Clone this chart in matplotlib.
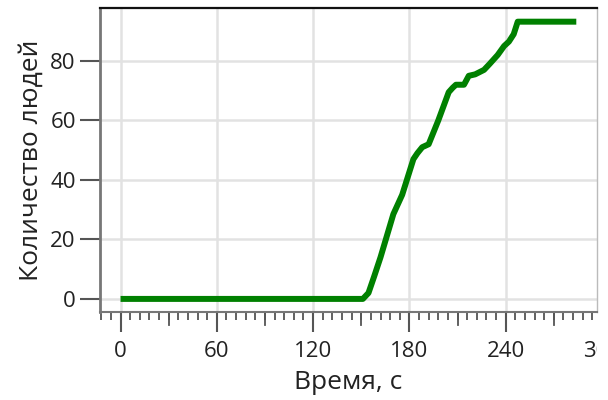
import matplotlib
matplotlib.use("Agg")
import matplotlib.pyplot as plt
from matplotlib.ticker import MultipleLocator
from matplotlib.patches import Rectangle

plt.rcParams['font.family'] = ['Open Sans', 'DejaVu Sans']

time_s = [0, 151, 154.5, 158, 162, 170, 175.5, 182.5, 185, 188, 192, 198, 204.5, 207,
          209, 214, 217, 221, 226.5, 230, 235, 239, 242, 245, 247.5, 284]
people = [0, 0, 2, 7.5, 14, 28.5, 35, 47, 49, 51, 52, 60, 69.5, 71,
          72, 72, 75, 75.5, 77, 79, 82, 85, 86.5, 89, 93.2, 93.2]

x_major = [0, 60, 120, 180, 240]
y_major = [0, 20, 40, 60, 80]

fig = plt.figure(figsize=(6.08, 4.0), dpi=100)
ax = fig.add_axes([100/608, 1-312/400, 497/608, 304/400])

ax.plot(time_s, people, color='#008000', lw=4.3, solid_capstyle='butt',
        solid_joinstyle='round', zorder=3)

ax.set_xlim(-12.8, 296.9)
ax.set_ylim(-4.4, 97.8)
ax.set_xticks(x_major)
ax.set_yticks(y_major)
ax.xaxis.set_minor_locator(MultipleLocator(6))

ax.grid(True, which='major', color='#e2e2e2', lw=1.8, zorder=0)

ax.tick_params(axis='x', which='major', length=14.4, width=1.5,
               color='#555555', labelsize=16, labelcolor='#222222', pad=6.5)
ax.tick_params(axis='y', which='major', length=14.4, width=1.5,
               color='#555555', labelsize=16, labelcolor='#222222', pad=3)
ax.tick_params(axis='x', which='minor', length=5.5, width=1.3, color='#555555')
ax.tick_params(axis='y', which='minor', length=0)

# medium ticks at 30-s midpoints
for xm in [30, 90, 150, 210, 270]:
    ax.plot([xm, xm], [0, -0.043], transform=ax.get_xaxis_transform(),
            color='#555555', lw=1.3, clip_on=False)

# partially visible last tick label (clipped at the chart's right edge)
t300 = ax.annotate('300', xy=(300, 0), xycoords=('data', 'axes fraction'),
                   xytext=(0, -20.9), textcoords='offset points', ha='center',
                   va='top', fontsize=16, color='#222222', annotation_clip=False)
clip_rect = Rectangle((0, 0), 597/608, 1, transform=fig.transFigure,
                      facecolor='none', edgecolor='none')
t300.set_clip_on(True)
t300.set_clip_path(clip_rect)

for side, col, w in [('top', '#111111', 1.6), ('left', '#777777', 2.0),
                     ('right', '#bbbbbb', 1.0), ('bottom', '#777777', 1.5)]:
    ax.spines[side].set_color(col)
    ax.spines[side].set_linewidth(w)

ax.set_xlabel('Время, с', fontsize=19, color='#222222', labelpad=6)
ax.set_ylabel('Количество людей', fontsize=19, color='#222222', labelpad=5)

fig.savefig('out.png', dpi=100)
